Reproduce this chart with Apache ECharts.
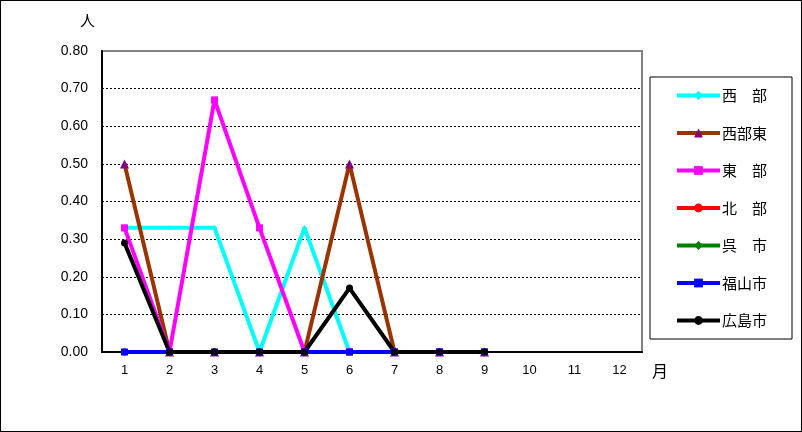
<!DOCTYPE html>
<html>
<head>
<meta charset="utf-8">
<script src="https://cdn.jsdelivr.net/npm/echarts@6/dist/echarts.min.js"></script>
<style>
html,body{margin:0;padding:0;background:#fff;overflow:hidden;}
#wrap{position:relative;width:802px;height:432px;}
#c{width:802px;height:432px;}
#frame{position:absolute;left:0;top:0;width:802px;height:432px;box-sizing:border-box;border:1px solid #000;pointer-events:none;}
</style>
</head>
<body>
<div id="wrap"><div id="c"></div><div id="frame"></div></div>
<script>
var months = ['1','2','3','4','5','6','7','8','9','10','11','12'];
var yTicks = [0, 0.1, 0.2, 0.3, 0.4, 0.5, 0.6, 0.7, 0.8];
var seriesNames = ['西　部', '西部東', '東　部', '北　部', '呉　市', '福山市', '広島市'];
var seibu     = [0.33, 0.33, 0.33, 0, 0.33, 0, 0, 0, 0];
var seibuHigashi = [0.5, 0, 0, 0, 0, 0.5, 0, 0, 0];
var tobu      = [0.33, 0, 0.67, 0.33, 0, 0, 0, 0, 0];
var hokubu    = [0, 0, 0, 0, 0, 0, 0, 0, 0];
var kure      = [0, 0, 0, 0, 0, 0, 0, 0, 0];
var fukuyama  = [0, 0, 0, 0, 0, 0, 0, 0, 0];
var hiroshima = [0.29, 0, 0, 0, 0, 0.17, 0, 0, 0];

var styles = [
  {color:'#00FFFF', symbol:'diamond', size:5, mcolor:'#00FFFF'},
  {color:'#993300', symbol:'triangle', size:9, mcolor:'#800080'},
  {color:'#FF00FF', symbol:'rect', size:7, mcolor:'#FF00FF'},
  {color:'#FF0000', symbol:'circle', size:7, mcolor:'#FF0000'},
  {color:'#008000', symbol:'diamond', size:5, mcolor:'#008000'},
  {color:'#0000FF', symbol:'rect', size:7, mcolor:'#0000FF'},
  {color:'#000000', symbol:'circle', size:7, mcolor:'#000000'}
];
var datas = [seibu, seibuHigashi, tobu, hokubu, kure, fukuyama, hiroshima];
var font = '"Liberation Sans", "Noto Sans CJK JP", sans-serif';

var series = datas.map(function(d, i){
  var s = styles[i];
  return {
    name: seriesNames[i],
    type: 'line',
    data: d,
    symbol: s.symbol,
    symbolSize: s.size,
    showAllSymbol: true,
    lineStyle: {color: s.color, width: 4},
    itemStyle: {color: s.mcolor, borderWidth: 0},
    emphasis: {disabled: true},
    animation: false
  };
});

var chart = echarts.init(document.getElementById('c'), null, {renderer:'canvas'});
chart.setOption({
  backgroundColor: '#fff',
  animation: false,
  grid: {left: 102, right: 160, top: 51, bottom: 80, show: true, borderColor: '#808080', borderWidth: 2, backgroundColor: 'transparent'},
  legend: {
    orient: 'vertical',
    left: 650, top: 77,
    width: 145,
    padding: [11, 25, 11, 25],
    borderColor: '#000', borderWidth: 1,
    itemWidth: 43, itemHeight: 11, itemGap: 22.5,
    lineStyle: {width: 4},
    textStyle: {fontSize: 15, lineHeight: 14, fontFamily: '"Noto Sans CJK JP", sans-serif', color: '#000', padding: [0, 0, 0, -3]},
    data: seriesNames
  },
  xAxis: {
    type: 'category',
    data: months,
    boundaryGap: true,
    axisLine: {lineStyle: {color: '#000', width: 2}},
    axisTick: {inside: true, length: 4, lineStyle: {color: '#000'}},
    axisLabel: {fontSize: 13, fontFamily: font, color: '#000', margin: 12},
    splitLine: {show: false}
  },
  yAxis: {
    type: 'value',
    min: yTicks[0], max: yTicks[yTicks.length - 1], interval: 0.1,
    axisLine: {show: true, lineStyle: {color: '#000', width: 2}},
    axisTick: {show: false},
    axisLabel: {fontSize: 14, fontFamily: font, color: '#000', margin: 14,
      formatter: function(v){ return v.toFixed(2); }},
    splitLine: {show: true, showMaxLine: false, lineStyle: {color: '#000', type: [2, 2], width: 1}}
  },
  graphic: [
    {type: 'text', left: 80, top: 13, style: {text: '人', font: '15px "Noto Sans CJK JP"', fill: '#000'}},
    {type: 'text', left: 652, top: 363, style: {text: '月', font: '16px "Noto Sans CJK JP"', fill: '#000'}}
  ],
  series: series
});
</script>
</body>
</html>
